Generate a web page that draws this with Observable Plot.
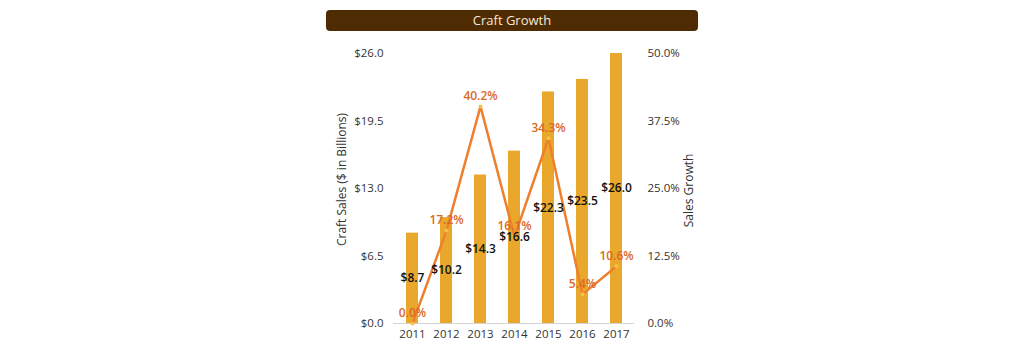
<!DOCTYPE html>
<html><head><meta charset="utf-8">
<script src="https://cdn.jsdelivr.net/npm/d3@7"></script>
<script src="https://cdn.jsdelivr.net/npm/@observablehq/plot@0.6"></script>
<style>
body{margin:0;background:#fff;}
#wrap{position:relative;width:1024px;height:352px;overflow:hidden;}
#chart{position:absolute;left:0;top:0;}
#title{position:absolute;left:326px;top:10px;width:372px;height:21px;background:#4F2B03;border-radius:4px;color:#F3E9DA;font:13px "Open Sans",sans-serif;text-align:center;line-height:21px;z-index:2;}
</style></head><body>
<div id="wrap"><div id="chart"></div><div id="title">Craft Growth</div></div>
<script>
const years = ["2011", "2012", "2013", "2014", "2015", "2016", "2017"];
const sales = [8.7, 10.2, 14.3, 16.6, 22.3, 23.5, 26.0];
const growth = [0.0, 17.2, 40.2, 16.1, 34.3, 5.4, 10.6];
const salesTicks = [0, 6.5, 13, 19.5, 26];
const growthTicks = [0, 12.5, 25, 37.5, 50];
const salesMax = 26, growthMax = 50;
const leftLabel = "Craft Sales ($ in Billions)";
const rightLabel = "Sales Growth";

const data = years.map((year, i) => ({year, sales: sales[i], growth: growth[i]}));
const g2y = g => g * salesMax / growthMax;
const font = "'Open Sans', sans-serif";

const chart = Plot.plot({
  width: 1024, height: 352,
  marginTop: 53, marginBottom: 29, marginLeft: 393, marginRight: 390,
  style: {fontFamily: font, fontSize: "11px", color: "#333", background: "transparent"},
  x: {domain: years, padding: 0, label: null},
  y: {domain: [0, salesMax], label: null},
  marks: [
    Plot.barY(data, {x: "year", y: "sales", fill: "#E9A82B", insetLeft: 11, insetRight: 11}),
    Plot.ruleY([0], {stroke: "#d4d4d4"}),
    Plot.axisX({tickSize: 0, tickPadding: 6, label: null, fontSize: 11.5}),
    Plot.axisY({anchor: "left", ticks: salesTicks, tickFormat: d => "$" + d.toFixed(1), tickSize: 0, tickPadding: 10, label: null, fontSize: 11.5}),
    Plot.axisY({anchor: "right", ticks: growthTicks.map(g2y), tickFormat: d => (d * growthMax / salesMax).toFixed(1) + "%", tickSize: 0, tickPadding: 13, label: null, fontSize: 11.5}),
    Plot.line(data, {x: "year", y: d => g2y(d.growth), stroke: "#EE7F2D", strokeWidth: 2.5}),
    Plot.dot(data, {x: "year", y: d => g2y(d.growth), r: 2, fill: "#F6C14A"}),
    Plot.text(data, {x: "year", y: d => d.sales / 2, text: d => "$" + d.sales.toFixed(1), fill: "#111", fontWeight: 600, fontSize: 12}),
    Plot.text(data, {x: "year", y: d => g2y(d.growth), text: d => d.growth.toFixed(1) + "%", dy: -10, fill: "#DA6A26", fontWeight: 600, fontSize: 12}),
    Plot.text([leftLabel], {frameAnchor: "left", textAnchor: "middle", dx: -51, dy: -9, rotate: -90, fontSize: 12, fill: "#333"}),
    Plot.text([rightLabel], {frameAnchor: "right", textAnchor: "middle", dx: 55, dy: 2, rotate: -90, fontSize: 12, fill: "#333"})
  ]
});
document.getElementById("chart").appendChild(chart);
</script>
</body></html>
